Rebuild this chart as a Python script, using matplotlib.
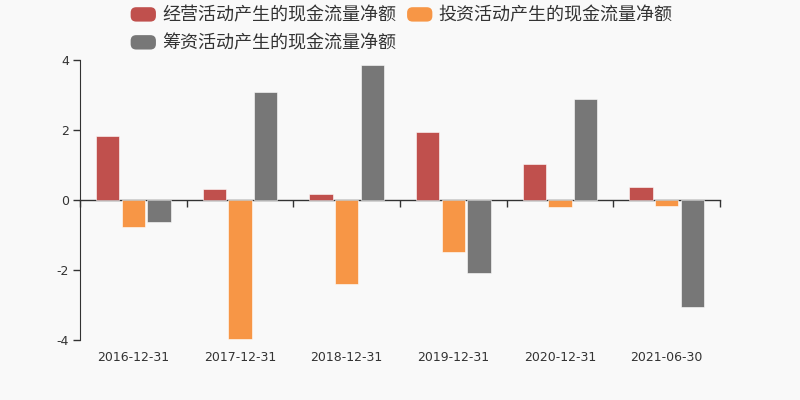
import matplotlib
matplotlib.use("Agg")
import matplotlib.pyplot as plt
import numpy as np
from matplotlib.patches import FancyBboxPatch
from matplotlib.legend_handler import HandlerPatch
from matplotlib.patches import Patch

plt.rcParams['font.family'] = ['DejaVu Sans', 'Noto Sans CJK SC']

categories = ["2016-12-31", "2017-12-31", "2018-12-31", "2019-12-31", "2020-12-31", "2021-06-30"]
series_names = ["经营活动产生的现金流量净额", "投资活动产生的现金流量净额", "筹资活动产生的现金流量净额"]
operating = [1.83, 0.31, 0.16, 1.94, 1.03, 0.36]
investing = [-0.78, -3.97, -2.41, -1.48, -0.21, -0.17]
financing = [-0.62, 3.08, 3.86, -2.09, 2.89, -3.07]
colors = ["#c0504d", "#f79646", "#777777"]
yticks = [-4, -2, 0, 2, 4]

bg = "#f9f9f9"
fig = plt.figure(figsize=(8, 4), dpi=100, facecolor=bg)
ax = fig.add_axes([0.1, 0.15, 0.8, 0.7], facecolor=bg)

x = np.arange(len(categories))
width = 0.22
offset = 0.24
for i, (vals, c, name) in enumerate(zip([operating, investing, financing], colors, series_names)):
    ax.bar(x + (i - 1) * offset, vals, width, color=c, edgecolor="#ffffff", linewidth=0.4, label=name, zorder=2)

ax.set_xlim(-0.5, len(categories) - 0.5)
ax.set_ylim(-4, 4)
ax.set_yticks(yticks)
ax.set_yticklabels([str(t) for t in yticks])
ax.set_xticks(x)
ax.set_xticklabels(categories)

axis_color = "#333333"
for s in ["top", "right", "bottom"]:
    ax.spines[s].set_visible(False)
ax.spines["left"].set_color(axis_color)
ax.tick_params(axis="y", colors=axis_color, labelsize=9, length=5, width=1, pad=3)
ax.tick_params(axis="x", colors=axis_color, labelsize=9, length=0, pad=8)

sec = ax.secondary_xaxis(0.5)
sec.set_xticks(np.arange(-0.5, len(categories), 1.0))
sec.set_xticklabels([])
sec.xaxis.set_ticks_position("bottom")
sec.tick_params(axis="x", which="both", bottom=True, top=False, labelbottom=False, labeltop=False,
                length=5, width=1, color=axis_color, direction="out")
for s in sec.spines.values():
    s.set_color(axis_color)
    s.set_linewidth(1)


class RoundHandler(HandlerPatch):
    def create_artists(self, legend, orig_handle, xdescent, ydescent, width, height, fontsize, trans):
        p = FancyBboxPatch((-xdescent, -ydescent), width, height,
                           boxstyle="round,pad=0,rounding_size=4",
                           facecolor=orig_handle.get_facecolor(), edgecolor="none", transform=trans)
        return [p]


proxies = [Patch(facecolor=c) for c in colors]
order = [0, 2, 1]
leg = fig.legend([proxies[i] for i in order], [series_names[i] for i in order],
                 ncol=2, loc="upper left", bbox_to_anchor=(0.143, 1.024),
                 frameon=False, fontsize=13, handlelength=1.4, handleheight=0.85,
                 handletextpad=0.35, columnspacing=0.6, labelspacing=0.55,
                 handler_map={Patch: RoundHandler()})
for t in leg.get_texts():
    t.set_color("#333333")

fig.savefig("out.png", dpi=100, facecolor=bg)
